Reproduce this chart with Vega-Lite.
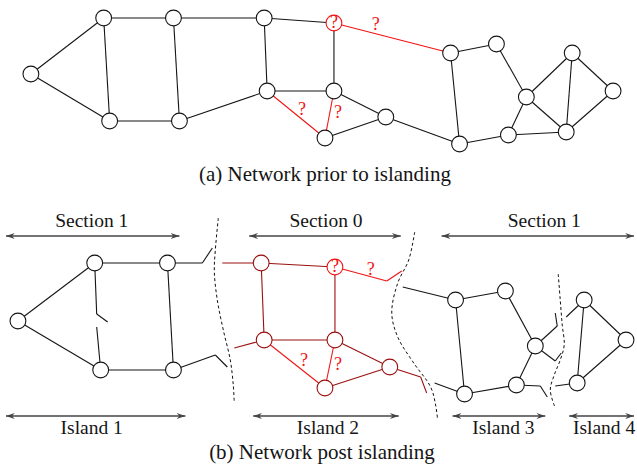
{
  "$schema": "https://vega.github.io/schema/vega-lite/v6.json",
  "autosize": {"type": "fit", "contains": "padding"},
  "width": 637,
  "height": 466,
  "padding": 0,
  "background": "white",
  "config": {"view": {"stroke": null}, "axis": {"disable": true}},
  "datasets": {
    "nodes": [
      {"panel": "a", "x": 31, "y": 74, "group": "plain"},
      {"panel": "a", "x": 104, "y": 18, "group": "plain"},
      {"panel": "a", "x": 174, "y": 18, "group": "plain"},
      {"panel": "a", "x": 265, "y": 18, "group": "plain"},
      {"panel": "a", "x": 110, "y": 121, "group": "plain"},
      {"panel": "a", "x": 180, "y": 121, "group": "plain"},
      {"panel": "a", "x": 268, "y": 91, "group": "plain"},
      {"panel": "a", "x": 335, "y": 23, "group": "unknown"},
      {"panel": "a", "x": 335, "y": 91, "group": "plain"},
      {"panel": "a", "x": 326, "y": 138, "group": "plain"},
      {"panel": "a", "x": 387, "y": 117, "group": "plain"},
      {"panel": "a", "x": 452, "y": 53, "group": "plain"},
      {"panel": "a", "x": 498, "y": 44, "group": "plain"},
      {"panel": "a", "x": 461, "y": 144, "group": "plain"},
      {"panel": "a", "x": 510, "y": 135, "group": "plain"},
      {"panel": "a", "x": 528, "y": 97, "group": "plain"},
      {"panel": "a", "x": 574, "y": 53, "group": "plain"},
      {"panel": "a", "x": 615, "y": 91, "group": "plain"},
      {"panel": "a", "x": 568, "y": 132, "group": "plain"},
      {"panel": "b", "x": 18, "y": 321, "group": "plain"},
      {"panel": "b", "x": 95, "y": 263, "group": "plain"},
      {"panel": "b", "x": 168, "y": 263, "group": "plain"},
      {"panel": "b", "x": 101, "y": 370, "group": "plain"},
      {"panel": "b", "x": 174, "y": 370, "group": "plain"},
      {"panel": "b", "x": 262, "y": 263, "group": "sec0"},
      {"panel": "b", "x": 265, "y": 340, "group": "sec0"},
      {"panel": "b", "x": 336, "y": 267, "group": "unknown"},
      {"panel": "b", "x": 336, "y": 340, "group": "sec0"},
      {"panel": "b", "x": 326, "y": 388, "group": "sec0"},
      {"panel": "b", "x": 391, "y": 367, "group": "sec0"},
      {"panel": "b", "x": 457, "y": 300, "group": "plain"},
      {"panel": "b", "x": 507, "y": 291, "group": "plain"},
      {"panel": "b", "x": 466, "y": 394, "group": "plain"},
      {"panel": "b", "x": 518, "y": 385, "group": "plain"},
      {"panel": "b", "x": 537, "y": 346, "group": "plain"},
      {"panel": "b", "x": 586, "y": 300, "group": "plain"},
      {"panel": "b", "x": 628, "y": 340, "group": "plain"},
      {"panel": "b", "x": 579, "y": 383, "group": "plain"}
    ],
    "edges": [
      {"x": 31, "y": 74, "x2": 104, "y2": 18, "group": "plain"},
      {"x": 31, "y": 74, "x2": 110, "y2": 121, "group": "plain"},
      {"x": 104, "y": 18, "x2": 174, "y2": 18, "group": "plain"},
      {"x": 104, "y": 18, "x2": 110, "y2": 121, "group": "plain"},
      {"x": 174, "y": 18, "x2": 180, "y2": 121, "group": "plain"},
      {"x": 174, "y": 18, "x2": 265, "y2": 18, "group": "plain"},
      {"x": 265, "y": 18, "x2": 335, "y2": 23, "group": "plain"},
      {"x": 265, "y": 18, "x2": 268, "y2": 91, "group": "plain"},
      {"x": 110, "y": 121, "x2": 180, "y2": 121, "group": "plain"},
      {"x": 180, "y": 121, "x2": 268, "y2": 91, "group": "plain"},
      {"x": 268, "y": 91, "x2": 335, "y2": 91, "group": "plain"},
      {"x": 335, "y": 23, "x2": 335, "y2": 91, "group": "plain"},
      {"x": 335, "y": 91, "x2": 387, "y2": 117, "group": "plain"},
      {"x": 326, "y": 138, "x2": 387, "y2": 117, "group": "plain"},
      {"x": 387, "y": 117, "x2": 461, "y2": 144, "group": "plain"},
      {"x": 452, "y": 53, "x2": 498, "y2": 44, "group": "plain"},
      {"x": 452, "y": 53, "x2": 461, "y2": 144, "group": "plain"},
      {"x": 498, "y": 44, "x2": 528, "y2": 97, "group": "plain"},
      {"x": 461, "y": 144, "x2": 510, "y2": 135, "group": "plain"},
      {"x": 510, "y": 135, "x2": 528, "y2": 97, "group": "plain"},
      {"x": 510, "y": 135, "x2": 568, "y2": 132, "group": "plain"},
      {"x": 528, "y": 97, "x2": 574, "y2": 53, "group": "plain"},
      {"x": 528, "y": 97, "x2": 568, "y2": 132, "group": "plain"},
      {"x": 574, "y": 53, "x2": 568, "y2": 132, "group": "plain"},
      {"x": 574, "y": 53, "x2": 615, "y2": 91, "group": "plain"},
      {"x": 615, "y": 91, "x2": 568, "y2": 132, "group": "plain"},
      {"x": 268, "y": 91, "x2": 326, "y2": 138, "group": "unknown"},
      {"x": 335, "y": 23, "x2": 452, "y2": 53, "group": "unknown"},
      {"x": 335, "y": 91, "x2": 326, "y2": 138, "group": "unknown"},

      {"x": 18, "y": 321, "x2": 95, "y2": 263, "group": "plain"},
      {"x": 18, "y": 321, "x2": 101, "y2": 370, "group": "plain"},
      {"x": 95, "y": 263, "x2": 168, "y2": 263, "group": "plain"},
      {"x": 168, "y": 263, "x2": 174, "y2": 370, "group": "plain"},
      {"x": 101, "y": 370, "x2": 174, "y2": 370, "group": "plain"},
      {"x": 95, "y": 263, "x2": 97, "y2": 314, "group": "plain"},
      {"x": 97, "y": 314, "x2": 108, "y2": 322, "group": "plain"},
      {"x": 97, "y": 327, "x2": 101, "y2": 370, "group": "plain"},
      {"x": 168, "y": 263, "x2": 203, "y2": 263, "group": "plain"},
      {"x": 203, "y": 263, "x2": 213, "y2": 248, "group": "plain"},
      {"x": 174, "y": 370, "x2": 216, "y2": 355, "group": "plain"},
      {"x": 216, "y": 355, "x2": 228, "y2": 367, "group": "plain"},

      {"x": 223, "y": 263, "x2": 262, "y2": 263, "group": "sec0"},
      {"x": 235, "y": 348, "x2": 265, "y2": 340, "group": "sec0"},
      {"x": 262, "y": 263, "x2": 265, "y2": 340, "group": "sec0"},
      {"x": 262, "y": 263, "x2": 336, "y2": 267, "group": "sec0"},
      {"x": 265, "y": 340, "x2": 336, "y2": 340, "group": "sec0"},
      {"x": 336, "y": 267, "x2": 336, "y2": 340, "group": "sec0"},
      {"x": 336, "y": 340, "x2": 391, "y2": 367, "group": "sec0"},
      {"x": 326, "y": 388, "x2": 391, "y2": 367, "group": "sec0"},
      {"x": 391, "y": 367, "x2": 422, "y2": 377, "group": "sec0"},
      {"x": 422, "y": 377, "x2": 428, "y2": 393, "group": "sec0"},
      {"x": 265, "y": 340, "x2": 326, "y2": 388, "group": "unknown"},
      {"x": 336, "y": 340, "x2": 326, "y2": 388, "group": "unknown"},
      {"x": 336, "y": 267, "x2": 388, "y2": 281, "group": "unknown"},
      {"x": 388, "y": 281, "x2": 403, "y2": 271, "group": "unknown"},

      {"x": 404, "y": 287, "x2": 457, "y2": 300, "group": "plain"},
      {"x": 436, "y": 383, "x2": 466, "y2": 394, "group": "plain"},
      {"x": 457, "y": 300, "x2": 507, "y2": 291, "group": "plain"},
      {"x": 457, "y": 300, "x2": 466, "y2": 394, "group": "plain"},
      {"x": 507, "y": 291, "x2": 537, "y2": 346, "group": "plain"},
      {"x": 466, "y": 394, "x2": 518, "y2": 385, "group": "plain"},
      {"x": 518, "y": 385, "x2": 537, "y2": 346, "group": "plain"},
      {"x": 537, "y": 346, "x2": 559, "y2": 326, "group": "plain"},
      {"x": 559, "y": 326, "x2": 557, "y2": 313, "group": "plain"},
      {"x": 537, "y": 346, "x2": 557, "y2": 361, "group": "plain"},
      {"x": 557, "y": 361, "x2": 563, "y2": 353, "group": "plain"},
      {"x": 518, "y": 385, "x2": 542, "y2": 386, "group": "plain"},
      {"x": 542, "y": 386, "x2": 549, "y2": 397, "group": "plain"},
      {"x": 586, "y": 300, "x2": 628, "y2": 340, "group": "plain"},
      {"x": 586, "y": 300, "x2": 579, "y2": 383, "group": "plain"},
      {"x": 628, "y": 340, "x2": 579, "y2": 383, "group": "plain"},
      {"x": 568, "y": 317, "x2": 586, "y2": 300, "group": "plain"},
      {"x": 557, "y": 386, "x2": 579, "y2": 383, "group": "plain"}
    ],
    "cuts": [
      {"cut": 1, "i": 0, "x": 219, "y": 218},
      {"cut": 1, "i": 1, "x": 216, "y": 250},
      {"cut": 1, "i": 2, "x": 215, "y": 272},
      {"cut": 1, "i": 3, "x": 218, "y": 300},
      {"cut": 1, "i": 4, "x": 224, "y": 330},
      {"cut": 1, "i": 5, "x": 231, "y": 360},
      {"cut": 1, "i": 6, "x": 234, "y": 385},
      {"cut": 1, "i": 7, "x": 235, "y": 403},
      {"cut": 2, "i": 0, "x": 416, "y": 232},
      {"cut": 2, "i": 1, "x": 410, "y": 260},
      {"cut": 2, "i": 2, "x": 399, "y": 283},
      {"cut": 2, "i": 3, "x": 393, "y": 313},
      {"cut": 2, "i": 4, "x": 399, "y": 337},
      {"cut": 2, "i": 5, "x": 415, "y": 363},
      {"cut": 2, "i": 6, "x": 432, "y": 387},
      {"cut": 2, "i": 7, "x": 437, "y": 405},
      {"cut": 2, "i": 8, "x": 439, "y": 420},
      {"cut": 3, "i": 0, "x": 560, "y": 274},
      {"cut": 3, "i": 1, "x": 562, "y": 300},
      {"cut": 3, "i": 2, "x": 564, "y": 325},
      {"cut": 3, "i": 3, "x": 566, "y": 345},
      {"cut": 3, "i": 4, "x": 562, "y": 360},
      {"cut": 3, "i": 5, "x": 556, "y": 375},
      {"cut": 3, "i": 6, "x": 552, "y": 390},
      {"cut": 3, "i": 7, "x": 557, "y": 408}
    ],
    "spans": [
      {"x": 6, "x2": 180, "y": 236},
      {"x": 250, "x2": 402, "y": 236},
      {"x": 443, "x2": 636, "y": 236},
      {"x": 6, "x2": 186, "y": 416},
      {"x": 254, "x2": 400, "y": 416},
      {"x": 454, "x2": 547, "y": 416},
      {"x": 571, "x2": 636, "y": 416}
    ],
    "labels": [
      {"x": 326, "y": 175, "text": "(a) Network prior to islanding", "kind": "caption", "group": "plain"},
      {"x": 323, "y": 453, "text": "(b) Network post islanding", "kind": "caption", "group": "plain"},
      {"x": 92, "y": 221, "text": "Section 1", "kind": "label", "group": "plain"},
      {"x": 327, "y": 221, "text": "Section 0", "kind": "label", "group": "plain"},
      {"x": 546, "y": 221, "text": "Section 1", "kind": "label", "group": "plain"},
      {"x": 92, "y": 428, "text": "Island 1", "kind": "label", "group": "plain"},
      {"x": 329, "y": 428, "text": "Island 2", "kind": "label", "group": "plain"},
      {"x": 505, "y": 428, "text": "Island 3", "kind": "label", "group": "plain"},
      {"x": 606, "y": 428, "text": "Island 4", "kind": "label", "group": "plain"},
      {"x": 335, "y": 23, "text": "?", "kind": "mark", "group": "unknown"},
      {"x": 377, "y": 25, "text": "?", "kind": "mark", "group": "unknown"},
      {"x": 303, "y": 110, "text": "?", "kind": "mark", "group": "unknown"},
      {"x": 339, "y": 113, "text": "?", "kind": "mark", "group": "unknown"},
      {"x": 336, "y": 267, "text": "?", "kind": "mark", "group": "unknown"},
      {"x": 372, "y": 270, "text": "?", "kind": "mark", "group": "unknown"},
      {"x": 305, "y": 361, "text": "?", "kind": "mark", "group": "unknown"},
      {"x": 339, "y": 365, "text": "?", "kind": "mark", "group": "unknown"}
    ]
  },
  "encoding": {
    "x": {"field": "x", "type": "quantitative", "scale": {"domain": [0, 637], "nice": false, "zero": false}},
    "y": {"field": "y", "type": "quantitative", "scale": {"domain": [0, 466], "nice": false, "zero": false, "reverse": true}}
  },
  "layer": [
    {
      "data": {"name": "edges"},
      "mark": {"type": "rule", "strokeWidth": 1.1},
      "encoding": {
        "x2": {"field": "x2"},
        "y2": {"field": "y2"},
        "color": {"field": "group", "type": "nominal", "legend": null,
          "scale": {"domain": ["plain", "sec0", "unknown"], "range": ["#151515", "#9a1010", "#f01414"]}}
      }
    },
    {
      "data": {"name": "cuts"},
      "mark": {"type": "line", "interpolate": "catmull-rom", "strokeDash": [3, 2.5], "strokeWidth": 1, "color": "#111"},
      "encoding": {
        "detail": {"field": "cut", "type": "nominal"},
        "order": {"field": "i", "type": "quantitative"}
      }
    },
    {
      "data": {"name": "spans"},
      "mark": {"type": "rule", "strokeWidth": 1.3, "color": "#444"},
      "encoding": {"x2": {"field": "x2"}}
    },
    {
      "data": {"name": "spans"},
      "transform": [{"fold": ["x", "x2"], "as": ["end", "hx"]}],
      "mark": {"type": "point", "filled": true, "color": "#444", "size": 64, "opacity": 1},
      "encoding": {
        "x": {"field": "hx", "type": "quantitative", "scale": {"domain": [0, 637], "nice": false, "zero": false}},
        "shape": {"field": "end", "type": "nominal", "legend": null,
          "scale": {"domain": ["x", "x2"], "range": ["M0,0L2.2,-0.75L1.5,0L2.2,0.75Z", "M0,0L-2.2,-0.75L-1.5,0L-2.2,0.75Z"]}}
      }
    },
    {
      "data": {"name": "nodes"},
      "mark": {"type": "point", "shape": "circle", "filled": true, "fill": "white", "size": 250, "strokeWidth": 1.1, "opacity": 1},
      "encoding": {
        "stroke": {"field": "group", "type": "nominal", "legend": null,
          "scale": {"domain": ["plain", "sec0", "unknown"], "range": ["#151515", "#9a1010", "#f01414"]}}
      }
    },
    {
      "data": {"name": "labels"},
      "mark": {"type": "text", "font": "Liberation Serif, Times New Roman, DejaVu Serif, serif", "baseline": "middle", "align": "center"},
      "encoding": {
        "text": {"field": "text"},
        "size": {"field": "kind", "type": "nominal", "legend": null,
          "scale": {"domain": ["caption", "label", "mark"], "range": [21, 18, 15]}},
        "color": {"field": "group", "type": "nominal", "legend": null,
          "scale": {"domain": ["plain", "sec0", "unknown"], "range": ["#151515", "#9a1010", "#f01414"]}}
      }
    }
  ]
}
